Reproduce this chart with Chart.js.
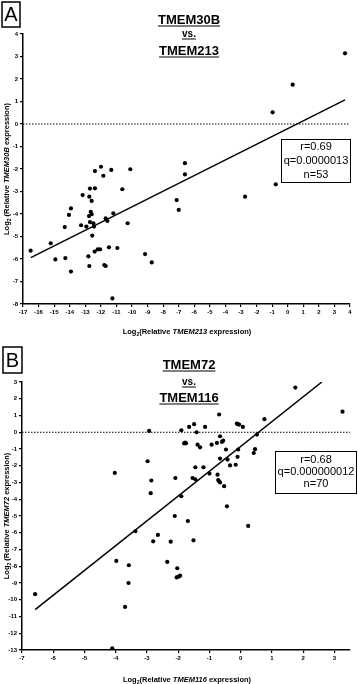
<!DOCTYPE html>
<html>
<head>
<meta charset="utf-8">
<script src="https://cdn.jsdelivr.net/npm/chart.js@4/dist/chart.umd.min.js"></script>
<style>
  body { margin: 0; background: #fff; }
  canvas { position: absolute; left: 0; }
  #chartA { top: 0; }
  #chartB { top: 340px; }
</style>
</head>
<body>
<canvas id="chartA" width="358" height="340"></canvas>
<canvas id="chartB" width="358" height="344"></canvas>
<script>
// Panel A data: TMEM213 (x) vs TMEM30B (y)
const tmem213 = [-16.51, -15.22, -14.92, -14.28, -14.32, -14.05, -13.92, -13.92, -13.17, -13.27,
  -12.93, -12.80, -12.74, -12.76, -12.74, -12.70, -12.65, -12.70, -12.59, -12.59,
  -12.55, -12.48, -12.44, -12.38, -12.38, -12.40, -12.20, -12.05, -11.99, -11.84,
  -11.78, -11.69, -11.69, -11.58, -11.33, -11.48, -11.26, -11.20, -10.94, -10.62,
  -10.28, -10.11, -9.16, -8.73, -7.13, -7.00, -6.60, -6.60, -2.74, -0.77,
  -0.97, 0.32, 3.68];
const tmem30b = [-5.63, -5.30, -6.02, -5.96, -4.58, -4.04, -3.75, -6.56, -3.16, -4.50,
  -4.56, -5.88, -6.31, -4.09, -3.23, -2.87, -3.90, -4.36, -3.42, -4.01,
  -4.96, -4.41, -4.56, -2.86, -2.09, -5.67, -5.57, -5.57, -1.90, -2.30,
  -6.27, -6.31, -4.19, -4.31, -2.04, -5.48, -7.75, -3.97, -5.51, -2.90,
  -4.41, -2.01, -5.78, -6.15, -3.38, -3.82, -1.74, -2.24, -3.23, -2.68,
  0.52, 1.75, 3.14];
const fitAx = [-16.5, 3.68];
const fitAy = [-5.94, 1.07];
const statsA = ["r=0.69", "q=0.0000013", "n=53"];

// Panel B data: TMEM116 (x) vs TMEM72 (y)
const tmem116 = [-4.03, -2.98, -2.93, -2.86, -2.88, -6.58, -4.11, -3.98, -3.58, -3.59,
  -3.70, -3.37, -2.80, -2.65, -2.24, -2.35, -2.11, -2.03, -2.05, -1.94,
  -0.44, -1.69, 0.24, -1.51, 1.75, 3.26, -0.69, 0.76, -0.12, -0.05,
  0.07, -1.49, -1.65, -1.14, -1.90, -1.41, -0.66, 0.52, -0.60, -0.56,
  -0.76, -0.93, -1.81, -1.75, -1.38, -1.30, -0.47, -0.08, 0.46, 0.42,
  -0.10, -0.66, -0.42, -0.34, -0.16, -1.45, -1.19, -1.00, -0.74, -2.09,
  -1.54, -1.45, -0.72, -0.66, -0.53, -1.90, -0.69, -1.78, -0.10, -1.99];
const tmem72 = [-2.43, -1.73, 0.08, -2.88, -3.64, -9.67, -12.9, -7.68, -7.94, -9.00,
  -10.43, -5.91, -6.51, -6.13, -6.53, -7.74, -5.00, -8.12, -8.67, -8.56,
  -4.42, -5.30, -5.59, -6.45, 2.67, 1.23, 1.06, 0.78, 0.52, 0.46,
  0.32, 0.48, 0.32, 0.32, 0.12, 0.00, -0.24, -0.14, -0.58, -0.50,
  -0.64, -0.74, -0.66, -0.66, -0.74, -0.90, -1.03, -1.03, -1.01, -1.24,
  -1.47, -1.57, -1.63, -1.98, -1.94, -2.09, -2.09, -2.47, -2.53, -2.73,
  -2.73, -2.81, -2.85, -3.00, -3.22, -3.82, -2.93, -0.62, 0.49, -8.62];
const fitBx = [-6.58, 2.60];
const fitBy = [-10.59, 3.0];
const statsB = ["r=0.68", "q=0.000000012", "n=70"];

const FONT = "'Liberation Sans', Arial, sans-serif";

function toPoints(xs, ys) {
  return xs.map((x, i) => ({ x: x, y: ys[i] }));
}

// draws text made of runs with different fonts, centred on x
function drawRuns(ctx, runs, x, y) {
  let w = 0;
  runs.forEach(r => { ctx.font = r.f; w += ctx.measureText(r.t).width; });
  let cx = x - w / 2;
  ctx.textAlign = "left";
  ctx.textBaseline = "alphabetic";
  runs.forEach(r => {
    ctx.font = r.f;
    ctx.fillText(r.t, cx, y + (r.dy || 0));
    cx += ctx.measureText(r.t).width;
  });
}

function axisRuns(gene, space) {
  return [
    { t: "Log", f: "bold 7.5px " + FONT },
    { t: "2", f: "bold 5px " + FONT, dy: 2 },
    { t: (space ? " " : "") + "(Relative ", f: "bold 7.5px " + FONT },
    { t: gene, f: "italic bold 7.5px " + FONT },
    { t: " expression)", f: "bold 7.5px " + FONT }
  ];
}

function decorPlugin(d) {
  return {
    id: "decor",
    afterDraw(chart) {
      const ctx = chart.ctx;
      const off = d.top;
      ctx.save();
      ctx.fillStyle = "#000";
      ctx.strokeStyle = "#000";

      // panel letter in a box
      ctx.lineWidth = 1.5;
      ctx.strokeRect(d.box[0], d.box[1] - off, d.box[2], d.box[3]);
      ctx.font = "20px " + FONT;
      ctx.textAlign = "center";
      ctx.textBaseline = "middle";
      ctx.fillText(d.letter, d.box[0] + d.box[2] / 2, d.box[1] - off + d.box[3] / 2 + 1);

      // underlined title lines
      d.title.forEach(l => {
        ctx.font = "bold " + l.size + "px " + FONT;
        ctx.textAlign = "center";
        ctx.textBaseline = "alphabetic";
        ctx.fillText(l.t, 189, l.y - off);
        const w = ctx.measureText(l.t).width;
        ctx.lineWidth = 1;
        ctx.beginPath();
        ctx.moveTo(189 - w / 2, l.y - off + 2);
        ctx.lineTo(189 + w / 2, l.y - off + 2);
        ctx.stroke();
      });

      // stats box
      const s = d.stats;
      ctx.lineWidth = 1;
      ctx.strokeRect(s.x0 + 0.5, s.y0 - off + 0.5, s.x1 - s.x0, s.y1 - s.y0);
      ctx.font = "11px " + FONT;
      ctx.textAlign = "center";
      ctx.textBaseline = "middle";
      s.lines.forEach((t, i) => {
        ctx.fillText(t, (s.x0 + s.x1) / 2 + 0.5, s.ly[i] - off);
      });

      // axis titles
      drawRuns(ctx, axisRuns(d.xGene, false), 187, d.xTitleY - off);
      ctx.translate(9, d.yTitleY - off);
      ctx.rotate(-Math.PI / 2);
      drawRuns(ctx, axisRuns(d.yGene, true), 0, 0);
      ctx.restore();
    }
  };
}

function axis(min, max, w, h) {
  return {
    type: "linear",
    min: min,
    max: max,
    afterFit(scale) {
      if (w) scale.width = w;
      if (h) scale.height = h;
    },
    afterBuildTicks(scale) {
      // one tick per whole number inside the range
      const ticks = [];
      for (let v = Math.ceil(min); v <= Math.floor(max); v++) ticks.push({ value: v });
      scale.ticks = ticks;
    },
    border: { display: true, color: "#000", width: 1.5 },
    grid: { display: true, drawOnChartArea: false, drawTicks: true, tickLength: 3, color: "#000", lineWidth: 1.2 },
    ticks: {
      stepSize: 1,
      padding: 2,
      color: "#000",
      font: { family: FONT, size: 6, weight: "bold" },
      maxRotation: 0,
      autoSkip: false
    }
  };
}

function makeChart(id, p) {
  return new Chart(document.getElementById(id), {
    type: "scatter",
    data: {
      datasets: [
        {
          data: toPoints(p.xs, p.ys),
          backgroundColor: "#000",
          borderWidth: 0,
          pointRadius: 2.1
        },
        {
          data: toPoints(p.fitX, p.fitY),
          showLine: true,
          borderColor: "#000",
          borderWidth: 1.5,
          pointRadius: 0
        },
        {
          data: toPoints([p.xMin, p.xMax], [0, 0]),
          showLine: true,
          borderColor: "#000",
          borderWidth: 1,
          borderDash: [1.5, 1.5],
          pointRadius: 0
        }
      ]
    },
    options: {
      responsive: false,
      devicePixelRatio: 1,
      animation: false,
      layout: { padding: p.padding },
      plugins: { legend: { display: false }, tooltip: { enabled: false } },
      scales: {
        x: axis(p.xMin, p.xMax, 0, p.xH),
        y: axis(p.yMin, p.yMax, p.yW, 0)
      }
    },
    plugins: [decorPlugin(p.decor)]
  });
}

makeChart("chartA", {
  xs: tmem213, ys: tmem30b, fitX: fitAx, fitY: fitAy,
  xMin: -17, xMax: 4, yMin: -8, yMax: 4,
  padding: { top: 34, right: 8, left: 0, bottom: 0 },
  yW: 23, xH: 36,
  decor: {
    top: 0, letter: "A", box: [2, 2, 18, 25],
    title: [{ t: "TMEM30B", size: 13, y: 24 }, { t: "vs.", size: 10, y: 37 }, { t: "TMEM213", size: 13, y: 55 }],
    stats: { x0: 281, y0: 139, x1: 350, y1: 182, lines: statsA, ly: [147, 161, 175] },
    xGene: "TMEM213", yGene: "TMEM30B", xTitleY: 334, yTitleY: 169
  }
});

makeChart("chartB", {
  xs: tmem116, ys: tmem72, fitX: fitBx, fitY: fitBy,
  xMin: -7, xMax: 3.5, yMin: -13, yMax: 3,
  padding: { top: 42, right: 8, left: 0, bottom: 0 },
  yW: 22, xH: 34,
  decor: {
    top: 340, letter: "B", box: [3, 347, 19, 26],
    title: [{ t: "TMEM72", size: 13, y: 369 }, { t: "vs.", size: 10, y: 385 }, { t: "TMEM116", size: 13, y: 402 }],
    stats: { x0: 275, y0: 451, x1: 356, y1: 493, lines: statsB, ly: [460, 472, 484] },
    xGene: "TMEM116", yGene: "TMEM72", xTitleY: 682, yTitleY: 516
  }
});
</script>
</body>
</html>
